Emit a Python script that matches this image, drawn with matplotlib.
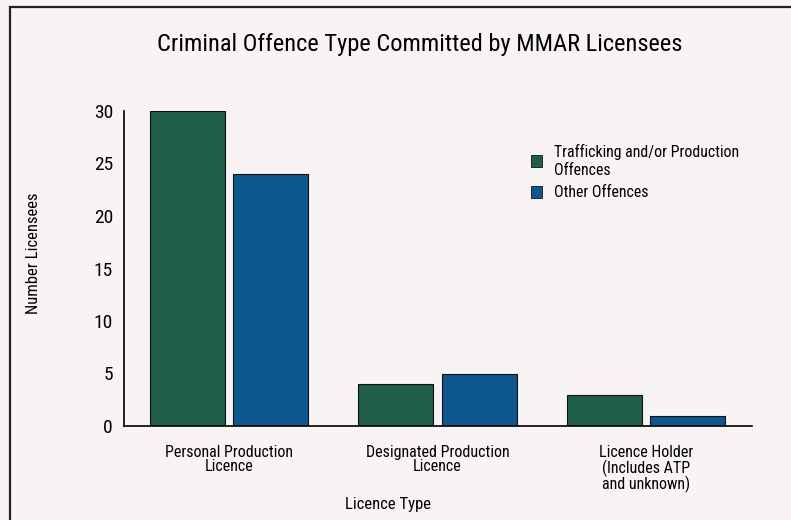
import numpy as np
from matplotlib import pyplot as plt
from matplotlib.patches import Rectangle, Patch

plt.rcParams['font.family'] = ['Liberation Sans Narrow', 'Roboto Condensed',
                               'Open Sans Condensed', 'Liberation Sans', 'DejaVu Sans']

licence_types = ["Personal Production\nLicence",
                 "Designated Production\nLicence",
                 "Licence Holder\n(Includes ATP\nand unknown)"]
trafficking = [30, 4, 3]
other = [24, 5, 1]
series_names = ["Trafficking and/or Production\nOffences", "Other Offences"]

green = '#1f5e4b'
blue = '#0e5890'
paper = '#f8f4f4'

fig = plt.figure(figsize=(7.91, 5.20), dpi=100)
fig.patch.set_facecolor(paper)

# page frame
fig.patches.append(Rectangle((10 / 791, -0.05), 1.1, (520 - 7) / 520 + 0.05,
                             transform=fig.transFigure, fill=False,
                             edgecolor='#222222', linewidth=1.6))

ax = fig.add_axes([124 / 791, 94 / 520, 628 / 791, 315 / 520])
ax.set_facecolor(paper)

x = np.arange(len(licence_types))
w = 0.36
ax.bar(x - 0.2, trafficking, w, color=green, edgecolor='#111111', linewidth=0.8)
ax.bar(x + 0.2, other, w, color=blue, edgecolor='#111111', linewidth=0.8)

ax.set_xlim(-0.505, 2.51)
ax.set_ylim(0, 30)
ax.set_yticks(range(0, 31, 5))
ax.tick_params(axis='y', length=0, pad=8, labelsize=14)
ax.tick_params(axis='x', length=0, pad=14, labelsize=11.5)
ax.set_xticks(x)
ax.set_xticklabels(licence_types, linespacing=0.92)

for side in ['top', 'right']:
    ax.spines[side].set_visible(False)
ax.spines['left'].set_linewidth(1.2)
ax.spines['bottom'].set_linewidth(1.2)

fig.text(420 / 791, 1 - 44 / 520, "Criminal Offence Type Committed by MMAR Licensees",
         ha='center', va='center', fontsize=17.6)
fig.text(388 / 791, 1 - 505 / 520, "Licence Type", ha='center', va='center', fontsize=12)
fig.text(33 / 791, 1 - 253 / 520, "Number Licensees", ha='center', va='center',
         rotation=90, fontsize=12)

handles = [Patch(facecolor=green, edgecolor='#111111', linewidth=0.6),
           Patch(facecolor=blue, edgecolor='#111111', linewidth=0.6)]
ax.legend(handles, series_names, loc='upper left', bbox_to_anchor=(0.625, 0.94),
          frameon=False, handlelength=0.72, handleheight=0.8,
          handletextpad=0.75, labelspacing=0.5, prop={'size': 11.4})

fig.savefig('out.png', dpi=100, facecolor=paper)
